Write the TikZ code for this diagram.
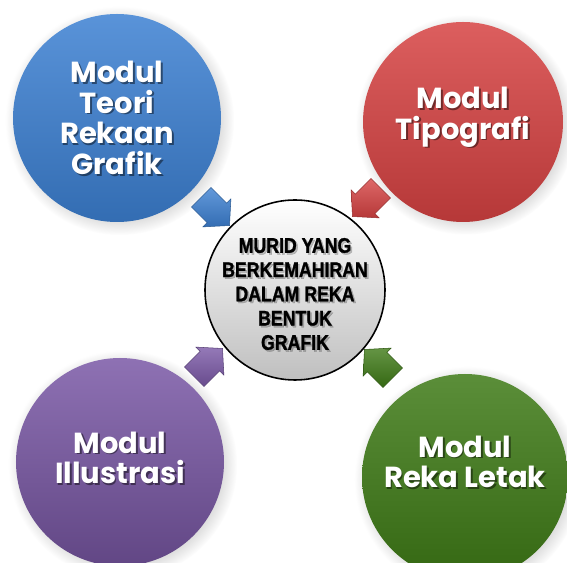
\documentclass[tikz,border=0pt]{standalone}
\usepackage{fontspec}
\setmainfont{Poppins}
\newfontfamily\tengah[FakeStretch=0.84,BoldFeatures={FakeBold=1.2}]{Liberation Sans}
\usetikzlibrary{positioning,calc,shapes.arrows,shadows}

\definecolor{biru}{RGB}{60,128,210}
\definecolor{merah}{RGB}{214,66,66}
\definecolor{ungu}{RGB}{122,88,166}
\definecolor{hijau}{RGB}{62,122,22}

% teks dengan bayangan
\newcommand{\teksbayang}[4]{%
  \node [#2,text=black,opacity=#3] at ($#1+(.035,-.035)$) {#4};
  \node [#2] at #1 {#4};}

\begin{document}
\begin{tikzpicture}[
  modul/.style={circle,minimum size=4.16cm,inner sep=0pt,
    circular drop shadow={shadow xshift=.05cm,shadow yshift=-.05cm,opacity=.3}},
  putih/.style={align=center,text=white,font=\fontsize{16.5}{17.5}\selectfont\bfseries},
  pusat/.style={circle,draw=black,line width=.9pt,minimum size=3.6cm,inner sep=0pt,
    top color=white,bottom color=black!25},
  hitam/.style={align=center,text=black,font=\tengah\fontsize{12}{13.8}\selectfont\bfseries},
  anak/.style={single arrow,minimum height=.7cm,inner sep=.27cm,
    single arrow head extend=.12cm,single arrow tip angle=96,
    draw=#1!70!black,line width=.3pt,
    top color=#1!80!white,bottom color=#1!85!black}
]
\useasboundingbox (0,0) rectangle (11.34,11.26);

\node [modul,top color=biru!85!white,bottom color=biru!85!black] at (2.34,8.90) (teori) {};
\node [modul,minimum size=4cm,top color=merah!85!white,bottom color=merah!85!black] at (9.26,8.82) (tipo) {};
\node [modul,top color=ungu!85!white,bottom color=ungu!80!black] at (2.40,2.02) (ilus) {};
\node [modul,minimum size=4.12cm,top color=hijau!85!white,bottom color=hijau!85!black] at (9.30,1.72) (letak) {};

\teksbayang{(teori.center)}{putih}{.45}{Modul\\Teori\\Rekaan\\Grafik}
\teksbayang{($(tipo.center)+(0,.1)$)}{putih}{.45}{Modul\\Tipografi}
\teksbayang{($(ilus.center)+(0,.08)$)}{putih}{.45}{Modul\\Illustrasi}
\teksbayang{($(letak.center)+(0,.3)$)}{putih}{.45}{Modul\\Reka Letak}

\node [pusat] at (5.90,5.46) (murid) {};
\teksbayang{($(murid.center)+(0,-.08)$)}{hitam}{.22}{MURID YANG\\BERKEMAHIRAN\\DALAM REKA\\BENTUK\\GRAFIK}

% anak panah ke tengah
\node [anak=biru,rotate=-45] at (4.22,7.12) (a1) {};
\node [anak=merah,rotate=-135] at (7.42,7.30) (a2) {};
\node [anak=ungu,rotate=45] at (4.08,3.92) (a3) {};
\node [anak=hijau,rotate=135] at (7.66,3.90) (a4) {};
\end{tikzpicture}
\end{document}
